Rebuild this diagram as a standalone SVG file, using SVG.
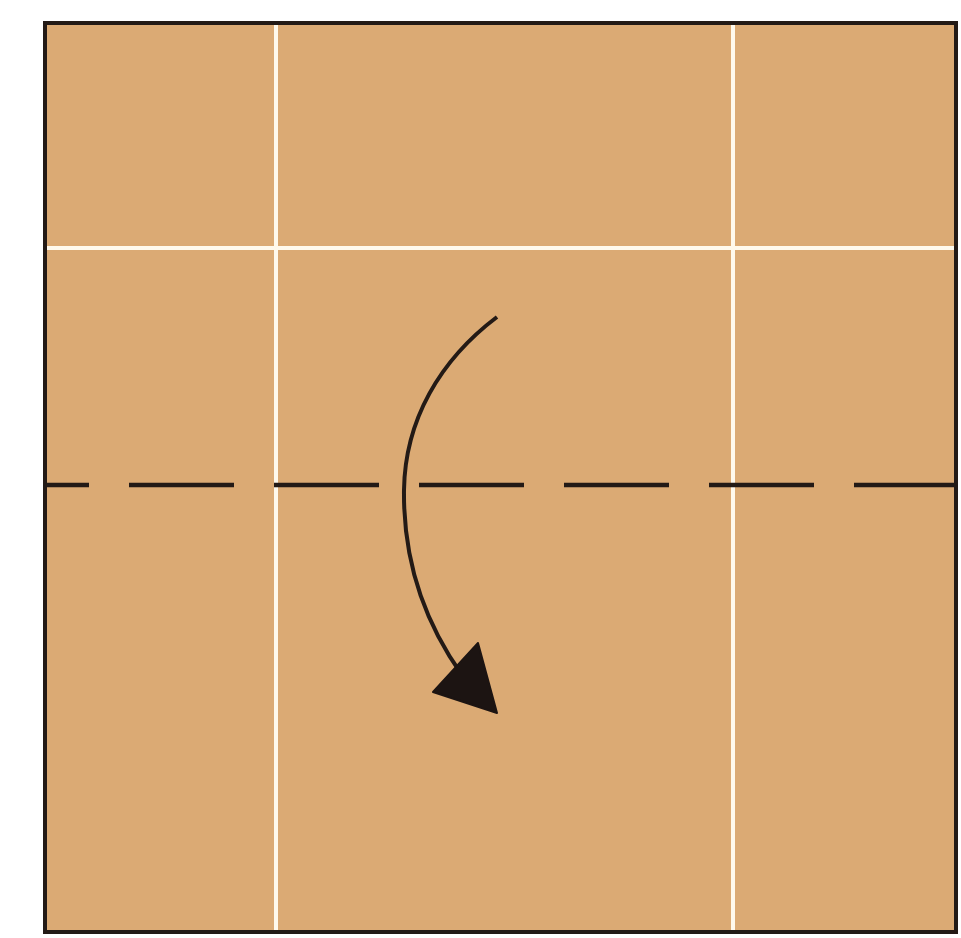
<svg xmlns="http://www.w3.org/2000/svg" width="961" height="938" viewBox="0 0 961 938">
<style>
.crease{stroke:#FFF9EC;stroke-width:4;fill:none}
.ink{stroke:#231a16;fill:none}
</style>
<rect width="961" height="938" fill="#ffffff"/>
<g id="paper">
<rect x="45" y="23" width="911" height="909" fill="#DBAA74"/>
<line class="crease" x1="276" y1="25" x2="276" y2="930"/>
<line class="crease" x1="733" y1="25" x2="733" y2="930"/>
<line class="crease" x1="47" y1="248" x2="954" y2="248"/>
<rect x="45" y="23" width="911" height="909" class="ink" stroke-width="4"/>
</g>
<g id="fold-line">
<line class="ink" x1="47" y1="485" x2="954" y2="485" stroke-width="4.5" stroke-dasharray="105 40" stroke-dashoffset="63"/>
</g>
<g id="connectors">
<path class="ink" d="M497,317 C440,360 405,420 404,490 C403,570 430,630 462,675" stroke-width="4"/>
<polygon points="478,643 433,692 497,713" fill="#1c1412" stroke="#1c1412" stroke-width="2" stroke-linejoin="round"/>
</g>
</svg>
